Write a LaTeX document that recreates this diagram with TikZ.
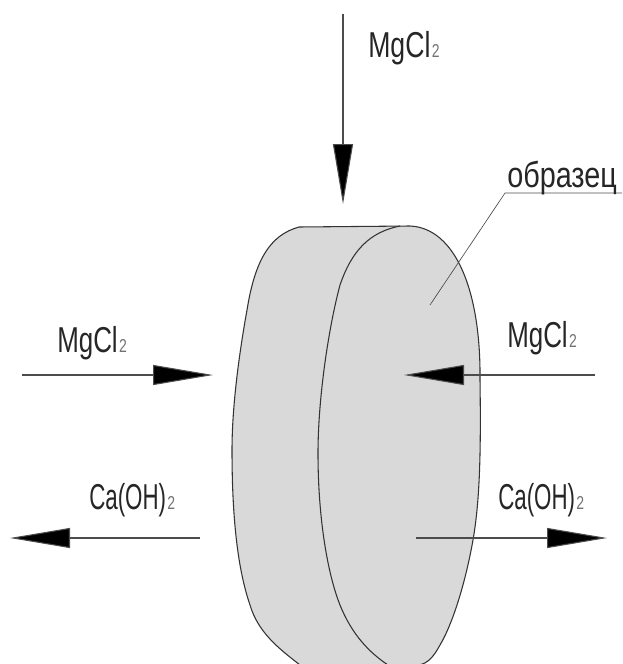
\documentclass[tikz,border=0pt]{standalone}
\usepackage{fontspec}
\setmainfont{Liberation Sans}
\usetikzlibrary{arrows.meta}
\newcommand{\lbl}[2]{\scalebox{#1}[1]{#2}}
\newcommand{\subtwo}{\hspace{1pt}\scalebox{0.75}[1]{\fontsize{14}{14}\selectfont\color{black!55}2}}
\tikzset{
  x=0.75pt,y=-0.75pt,
  body/.style={fill=black!15,draw=black!80,line width=0.8pt},
  flow/.style={draw=black!70,line width=0.8pt,-{Triangle[length=45pt,width=15pt,fill=black]}},
  leader/.style={draw=black!70,line width=0.5pt},
  label/.style={inner sep=0pt,anchor=base west,text=black!85,font=\fontsize{27}{27}\selectfont}
}
\begin{document}
\begin{tikzpicture}
\useasboundingbox (0,0) rectangle (622,664);
% body
\begin{scope}
\clip (0,0) rectangle (622,664);
\path[body] (299,227) .. controls (270,235) and (255,260) .. (247,310)
  .. controls (238,360) and (232,410) .. (232,450)
  .. controls (232,520) and (238,570) .. (250,605)
  .. controls (258,632) and (278,648) .. (300,665)
  -- (418,665)
  .. controls (428,664) and (434,656) .. (440,645)
  .. controls (452,625) and (465,585) .. (473,540)
  .. controls (480,500) and (481,450) .. (480,380)
  .. controls (481,290) and (455,228) .. (410,226)
  -- cycle;
\draw[body,fill=none] (400,226) .. controls (370,232) and (352,250) .. (340,285)
  .. controls (328,330) and (318,400) .. (318,453)
  .. controls (318,520) and (328,575) .. (340,605)
  .. controls (352,635) and (370,653) .. (388,665);
\end{scope}
% coordinates
\coordinate (t0) at (343,14); \coordinate (t1) at (343,204);
\coordinate (l0) at (22,375); \coordinate (l1) at (213,375);
\coordinate (r0) at (595,375); \coordinate (r1) at (404,375);
\coordinate (cl0) at (200,538); \coordinate (cl1) at (10,538);
\coordinate (cr0) at (416,538); \coordinate (cr1) at (607,538);
\coordinate (a) at (430,305); \coordinate (b) at (505,193); \coordinate (c) at (622,193);
\draw[flow] (t0) -- (t1);
\draw[flow] (l0) -- (l1);
\draw[flow] (r0) -- (r1);
\draw[flow] (cl0) -- (cl1);
\draw[flow] (cr0) -- (cr1);
\draw[leader] (a) -- (b) -- (c);
% labels
\node[label] (m1) at (368,57) {\lbl{0.74}{MgCl}\subtwo};
\node[label] (m2) at (57,352) {\lbl{0.72}{MgCl}\subtwo};
\node[label] (m3) at (507,347) {\lbl{0.72}{MgCl}\subtwo};
\node[label] (c1) at (89,509) {\lbl{0.62}{Ca(OH)}\subtwo};
\node[label] (c2) at (498,509) {\lbl{0.62}{Ca(OH)}\subtwo};
\node[label] (o) at (507,187) {\lbl{0.8}{образец}};
\end{tikzpicture}
\end{document}
